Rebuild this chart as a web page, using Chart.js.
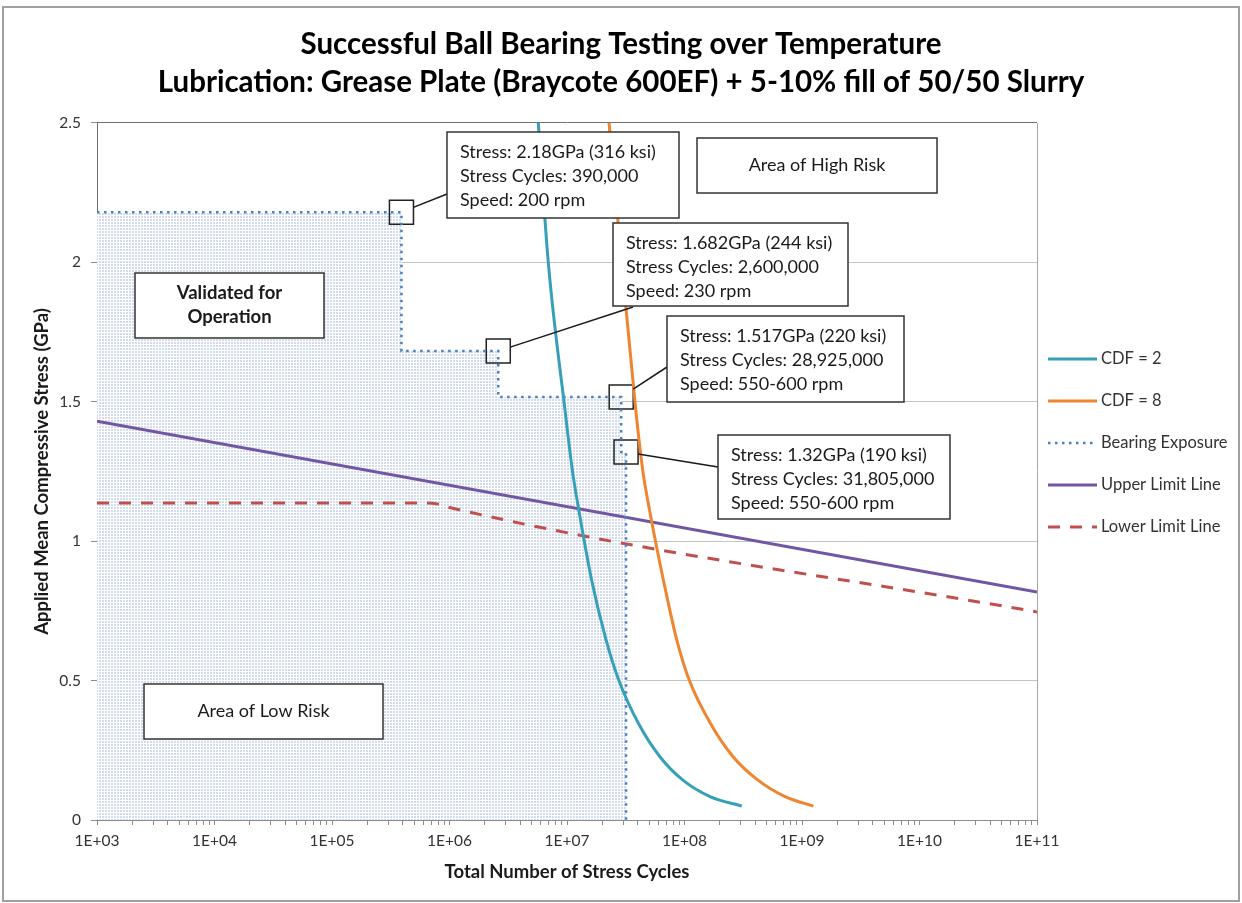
<!DOCTYPE html>
<html>
<head>
<meta charset="utf-8">
<title>Successful Ball Bearing Testing over Temperature</title>
<script src="https://cdn.jsdelivr.net/npm/chart.js@4.4.1/dist/chart.umd.min.js"></script>
<style>
  html, body { margin: 0; padding: 0; background: #fff; }
  canvas { display: block; }
</style>
</head>
<body>
<canvas id="chart" width="1242" height="903"></canvas>
<script>
// CDF = 2 curve (stress cycles, GPa)
const cdf2Cycles = [5.70e6, 6.93e6, 9.62e6, 1.11e7, 1.26e7, 1.62e7, 2.15e7, 2.74e7, 4.05e7, 6.18e7, 9.70e7, 1.65e8, 3.07e8];
const cdf2Stress = [2.5, 2.0, 1.47, 1.255, 1.112, 0.861, 0.646, 0.505, 0.347, 0.227, 0.143, 0.084, 0.05];

// CDF = 8 curve
const cdf8Cycles = [2.28e7, 2.92e7, 3.85e7, 4.41e7, 5.04e7, 6.61e7, 8.59e7, 1.09e8, 1.66e8, 2.59e8, 4.22e8, 7.17e8, 1.25e9];
const cdf8Stress = [2.5, 2.0, 1.47, 1.255, 1.112, 0.861, 0.646, 0.505, 0.347, 0.227, 0.143, 0.084, 0.05];

// test points (the corners of the bearing exposure step)
const testCycles = [390000, 2600000, 28925000, 31805000];
const testStress = [2.18, 1.682, 1.517, 1.32];
const testText = [
  ['Stress: 2.18GPa (316 ksi)', 'Stress Cycles: 390,000', 'Speed: 200 rpm'],
  ['Stress: 1.682GPa (244 ksi)', 'Stress Cycles: 2,600,000', 'Speed: 230 rpm'],
  ['Stress: 1.517GPa (220 ksi)', 'Stress Cycles: 28,925,000', 'Speed: 550-600 rpm'],
  ['Stress: 1.32GPa (190 ksi)', 'Stress Cycles: 31,805,000', 'Speed: 550-600 rpm']
];
const exposureStart = 1e3;

// limit lines
const upperCycles = [1e3, 1e11];
const upperStress = [1.43, 0.818];
const lowerCycles = [1e3, 6e5, 8e5, 1e6, 1e11];
const lowerStress = [1.137, 1.137, 1.133, 1.121, 0.746];

const yTicks = [0, 0.5, 1, 1.5, 2, 2.5];
const decades = [3, 4, 5, 6, 7, 8, 9, 10, 11];

const FONT = 'Lato, "Open Sans", sans-serif';

function pts(xs, ys) {
  return xs.map((x, i) => ({ x: x, y: ys[i] }));
}

// exposure step: starts at left edge, steps down through each test point, ends at 0
const exposureCycles = [exposureStart].concat(testCycles);
const exposureStress = testStress.concat([0]);

// dotted fill for the tested region
const pc = document.createElement('canvas');
pc.width = 3; pc.height = 3;
const pctx = pc.getContext('2d');
pctx.fillStyle = '#ffffff';
pctx.fillRect(0, 0, 3, 3);
pctx.fillStyle = '#d2dcec';
pctx.fillRect(0, 0, 2, 2);
const dotPattern = pctx.createPattern(pc, 'repeat');

// callout boxes and plain labels (pixel layout)
const callouts = [
  { x: 447, y: 132, w: 232, h: 86, ax: 447, ay: 194 },
  { x: 613, y: 223, w: 235, h: 83, ax: 633, ay: 307 },
  { x: 667, y: 316, w: 237, h: 86, ax: 667, ay: 367 },
  { x: 718, y: 435, w: 232, h: 84, ax: 718, ay: 467 }
];
const labels = [
  { x: 697, y: 138, w: 240, h: 55, lines: ['Area of High Risk'], bold: false },
  { x: 135, y: 273, w: 189, h: 65, lines: ['Validated for', 'Operation'], bold: true },
  { x: 144, y: 684, w: 239, h: 55, lines: ['Area of Low Risk'], bold: false }
];

const decorPlugin = {
  id: 'decor',
  beforeDraw(chart) {
    const c = chart.ctx;
    c.save();
    c.fillStyle = '#fff';
    c.fillRect(0, 0, chart.width, chart.height);
    c.restore();
  },
  afterDatasetsDraw(chart) {
    const c = chart.ctx;
    const a = chart.chartArea;
    const xs = chart.scales.x, ys = chart.scales.y;
    c.save();
    // right border of plot area
    c.strokeStyle = '#a6a6a6';
    c.lineWidth = 1;
    c.beginPath();
    c.moveTo(a.right + 0.5, a.top);
    c.lineTo(a.right + 0.5, a.bottom);
    c.stroke();

    // leader lines from each test square to its callout
    const half = 12;
    c.strokeStyle = '#1a1a1a';
    c.lineWidth = 1.5;
    testCycles.forEach((cy, i) => {
      const px = xs.getPixelForValue(cy);
      const py = ys.getPixelForValue(testStress[i]);
      const b = callouts[i];
      const dx = b.ax - px, dy = b.ay - py;
      const t = Math.min(half / Math.abs(dx || 1e-6), half / Math.abs(dy || 1e-6));
      c.beginPath();
      c.moveTo(px + dx * t, py + dy * t);
      c.lineTo(b.ax, b.ay);
      c.stroke();
    });

    // callout boxes
    c.font = '18px ' + FONT;
    c.textBaseline = 'middle';
    callouts.forEach((b, i) => {
      c.fillStyle = '#fff';
      c.fillRect(b.x, b.y, b.w, b.h);
      c.strokeStyle = '#333';
      c.lineWidth = 1.5;
      c.strokeRect(b.x, b.y, b.w, b.h);
      c.fillStyle = '#1a1a1a';
      c.textAlign = 'left';
      testText[i].forEach((t, j) => c.fillText(t, b.x + 13, b.y + 20 + j * 24));
    });

    // plain labels
    labels.forEach(l => {
      c.fillStyle = '#fff';
      c.fillRect(l.x, l.y, l.w, l.h);
      c.strokeStyle = '#333';
      c.lineWidth = 1.5;
      c.strokeRect(l.x, l.y, l.w, l.h);
      c.fillStyle = '#1a1a1a';
      c.textAlign = 'center';
      c.font = (l.bold ? 'bold 18.5px ' : '18px ') + FONT;
      const n = l.lines.length;
      l.lines.forEach((t, j) => c.fillText(t, l.x + l.w / 2, l.y + l.h / 2 + (j - (n - 1) / 2) * 24));
    });
    c.restore();
  },
  afterDraw(chart) {
    const c = chart.ctx;
    c.save();
    // legend
    c.font = '16.5px ' + FONT;
    c.textBaseline = 'middle';
    c.textAlign = 'left';
    let y = 359;
    chart.data.datasets.forEach(ds => {
      if (ds.noLegend) return;
      c.strokeStyle = ds.borderColor;
      c.lineWidth = ds.borderWidth;
      c.setLineDash(ds.borderDash || []);
      c.beginPath();
      c.moveTo(1048, y);
      c.lineTo(1097, y);
      c.stroke();
      c.setLineDash([]);
      c.fillStyle = '#333';
      c.fillText(ds.label, 1101, y);
      y += 42;
    });
    // chart frame
    c.strokeStyle = '#a0a0a0';
    c.lineWidth = 2;
    c.strokeRect(3, 7, 1236, 894);
    c.restore();
  }
};

new Chart(document.getElementById('chart'), {
  type: 'line',
  data: {
    datasets: [
      {
        label: 'CDF = 2',
        data: pts(cdf2Cycles, cdf2Stress),
        borderColor: '#35a0b8',
        borderWidth: 3,
        pointRadius: 0,
        cubicInterpolationMode: 'monotone',
        fill: false
      },
      {
        label: 'CDF = 8',
        data: pts(cdf8Cycles, cdf8Stress),
        borderColor: '#ee8531',
        borderWidth: 3,
        pointRadius: 0,
        cubicInterpolationMode: 'monotone',
        fill: false
      },
      {
        label: 'Bearing Exposure',
        data: pts(exposureCycles, exposureStress),
        borderColor: '#4a7fc0',
        borderWidth: 2.5,
        borderDash: [2.5, 4.5],
        stepped: true,
        pointRadius: 0,
        fill: 'origin',
        backgroundColor: dotPattern
      },
      {
        label: 'Upper Limit Line',
        data: pts(upperCycles, upperStress),
        borderColor: '#7256a4',
        borderWidth: 3,
        pointRadius: 0,
        fill: false
      },
      {
        label: 'Lower Limit Line',
        data: pts(lowerCycles, lowerStress),
        borderColor: '#c0504d',
        borderWidth: 3,
        borderDash: [12, 10],
        pointRadius: 0,
        cubicInterpolationMode: 'monotone',
        fill: false
      },
      {
        label: 'Test points',
        noLegend: true,
        data: pts(testCycles, testStress),
        showLine: false,
        pointStyle: 'rect',
        pointRadius: 17,
        pointBackgroundColor: 'rgba(0,0,0,0)',
        pointBorderColor: '#222',
        pointBorderWidth: 1.5,
        fill: false
      }
    ]
  },
  options: {
    responsive: false,
    animation: false,
    devicePixelRatio: 1,
    layout: { padding: 0 },
    plugins: {
      legend: { display: false },
      tooltip: { enabled: false },
      filler: { drawTime: 'beforeDatasetsDraw' },
      title: {
        display: true,
        text: ['Successful Ball Bearing Testing over Temperature',
               'Lubrication: Grease Plate (Braycote 600EF) + 5-10% fill of 50/50 Slurry'],
        color: '#000',
        font: { family: FONT, size: 29.5, weight: 'bold', lineHeight: 1.288 },
        padding: { top: 25, bottom: 22 }
      }
    },
    scales: {
      x: {
        type: 'logarithmic',
        min: 1e3,
        max: 1e11,
        afterFit(s) { s.height = 83; },
        afterBuildTicks(s) {
          const t = [];
          decades.forEach(e => {
            for (let m = 1; m <= 9; m++) {
              if (e === 11 && m > 1) break;
              t.push({ value: m * Math.pow(10, e) });
            }
          });
          s.ticks = t;
        },
        grid: { drawOnChartArea: false, drawTicks: true, tickLength: 5, tickColor: '#8c8c8c' },
        border: { display: true, color: '#8c8c8c', width: 1 },
        ticks: {
          autoSkip: false,
          maxRotation: 0,
          minRotation: 0,
          padding: 7,
          color: '#333',
          font: { family: FONT, size: 15.5 },
          callback(v) {
            const e = Math.log10(v);
            if (Math.abs(e - Math.round(e)) > 1e-9) return '';
            return '1E+' + String(Math.round(e)).padStart(2, '0');
          }
        },
        title: {
          display: true,
          text: 'Total Number of Stress Cycles',
          color: '#1a1a1a',
          font: { family: FONT, size: 18.5, weight: 'bold' },
          padding: { top: 0, bottom: 20 }
        }
      },
      y: {
        min: 0,
        max: 2.5,
        afterFit(s) { s.width = 97; },
        afterBuildTicks(s) { s.ticks = yTicks.map(v => ({ value: v })); },
        grid: {
          color: ctx => (ctx.tick && ctx.tick.value === 2.5 ? '#707070' : '#c4c4c4'),
          lineWidth: 1,
          drawTicks: true,
          tickLength: 6,
          tickColor: '#8c8c8c'
        },
        border: { display: true, color: '#707070', width: 1 },
        ticks: {
          padding: 10,
          color: '#333',
          font: { family: FONT, size: 15.5 },
          callback: v => String(v)
        },
        title: {
          display: true,
          text: 'Applied Mean Compressive Stress (GPa)',
          color: '#1a1a1a',
          font: { family: FONT, size: 18.5, weight: 'bold' },
          padding: { top: 31, bottom: 0 }
        }
      },
      // empty right-hand band that holds the legend
      side: {
        type: 'linear',
        position: 'right',
        min: 0,
        max: 2.5,
        afterFit(s) { s.width = 205; },
        grid: { display: false, drawTicks: false },
        border: { display: false },
        ticks: { display: false }
      }
    }
  },
  plugins: [decorPlugin]
});
</script>
</body>
</html>
